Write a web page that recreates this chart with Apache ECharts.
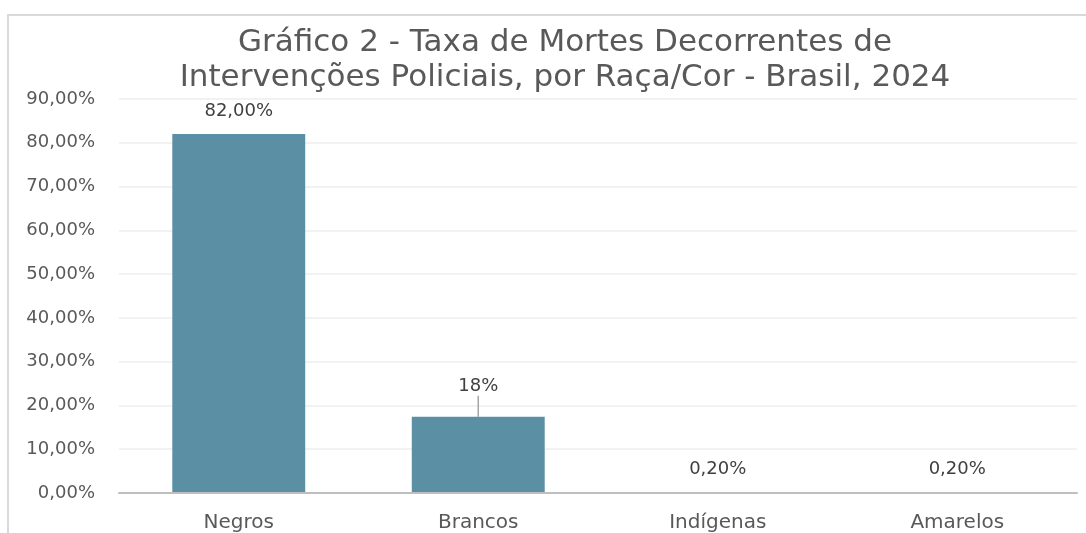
<!DOCTYPE html>
<html>
<head>
<meta charset="utf-8">
<script src="https://cdn.jsdelivr.net/npm/echarts@6/dist/echarts.min.js"></script>
<style>html,body{margin:0;padding:0;background:#fff}#c{width:1086px;height:533px}</style>
</head>
<body>
<div id="c"></div>
<script>
const titleText = 'Gráfico 2 - Taxa de Mortes Decorrentes de\nIntervenções Policiais, por Raça/Cor - Brasil, 2024';
const categories = ['Negros', 'Brancos', 'Indígenas', 'Amarelos'];
const values = [82, 17.4, 0.2, 0.2];
const valueLabels = ['82,00%', '18%', '0,20%', '0,20%'];
const yMin = 0, yMax = 90, yStep = 10;

const chart = echarts.init(document.getElementById('c'), null, {renderer: 'canvas'});
const fontAxis = '"DejaVu Sans", "Noto Sans", sans-serif';
const labelShift = [-9, -16, -9, -9];
chart.setOption({
  animation: false,
  graphic: [{
    type: 'rect', z: -1,
    shape: {x: 8, y: 15, width: 1200, height: 700},
    style: {fill: 'none', stroke: '#d9d9d9', lineWidth: 2}
  }],
  title: {
    text: titleText,
    left: 560, top: 20, textAlign: 'center',
    textStyle: {fontFamily: '"DejaVu Sans", sans-serif', fontSize: 31, fontWeight: 'normal', color: '#595959', lineHeight: 35}
  },
  grid: {left: 119, right: 9, top: 99, bottom: 40},
  xAxis: {
    type: 'category', data: categories, z: 10,
    axisLine: {lineStyle: {color: '#bfbfbf', width: 2}},
    axisTick: {show: false},
    axisLabel: {fontFamily: fontAxis, fontSize: 20, color: '#595959', margin: 20}
  },
  yAxis: {
    type: 'value', min: yMin, max: yMax, interval: yStep,
    axisLine: {show: false}, axisTick: {show: false},
    splitLine: {lineStyle: {color: '#eeeeee', width: 1.5}},
    axisLabel: {
      fontFamily: fontAxis, fontSize: 18, color: '#595959', margin: 24,
      formatter: v => v.toFixed(2).replace('.', ',') + '%'
    }
  },
  series: [{
    type: 'bar', barWidth: '55.5%',
    itemStyle: {color: '#5b8fa4'},
    data: values.map((v, i) => ({
      value: v,
      label: {formatter: valueLabels[i]},
      labelLine: {show: i === 1, lineStyle: {color: '#a6a6a6', width: 1.5}}
    })),
    label: {show: true, position: 'top', fontFamily: fontAxis, fontSize: 18, color: '#404040'},
    labelLayout: p => ({dy: labelShift[p.dataIndex]})
  }]
});
</script>
</body>
</html>
